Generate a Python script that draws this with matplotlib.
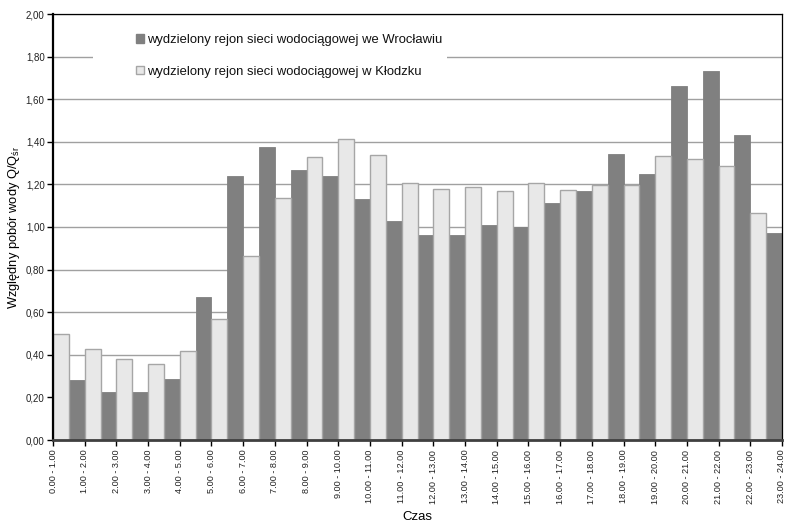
import numpy as np
import matplotlib
matplotlib.use("Agg")
import matplotlib.pyplot as plt
from matplotlib.patches import Patch, Rectangle

plt.rcParams['font.family'] = ['Liberation Sans', 'DejaVu Sans']
plt.rcParams['mathtext.fontset'] = 'custom'
plt.rcParams['mathtext.rm'] = 'Liberation Sans'
plt.rcParams['mathtext.it'] = 'Liberation Sans'

hours = ["0.00 - 1.00", "1.00 - 2.00", "2.00 - 3.00", "3.00 - 4.00", "4.00 - 5.00",
         "5.00 - 6.00", "6.00 - 7.00", "7.00 - 8.00", "8.00 - 9.00", "9.00 - 10.00",
         "10.00 - 11.00", "11.00 - 12.00", "12.00 - 13.00", "13.00 - 14.00",
         "14.00 - 15.00", "15.00 - 16.00", "16.00 - 17.00", "17.00 - 18.00",
         "18.00 - 19.00", "19.00 - 20.00", "20.00 - 21.00", "21.00 - 22.00",
         "22.00 - 23.00", "23.00 - 24.00"]

# relative water demand Q/Q_sr per hour (NaN = outside the plotted range)
wroclaw = [np.nan, 0.28, 0.225, 0.225, 0.286, 0.671, 1.239, 1.376, 1.268, 1.239,
           1.131, 1.028, 0.962, 0.962, 1.009, 0.998, 1.113, 1.169, 1.343, 1.25,
           1.662, 1.732, 1.432, 0.972]
klodzko = [0.50, 0.426, 0.38, 0.357, 0.416, 0.566, 0.864, 1.138, 1.327, 1.412,
           1.337, 1.205, 1.18, 1.189, 1.169, 1.205, 1.172, 1.196, 1.197, 1.333,
           1.321, 1.285, 1.064, np.nan]

label_w = "wydzielony rejon sieci wodociągowej we Wrocławiu"
label_k = "wydzielony rejon sieci wodociągowej w Kłodzku"

dark = "#808080"
light = "#E8E8E8"
light_edge = "#A6A6A6"

W, H = 785, 523
L, R, T, B = 53, 782, 14, 440
fig = plt.figure(figsize=(W / 100, H / 100), dpi=100)
ax = fig.add_axes([L / W, (H - B) / H, (R - L) / W, (B - T) / H])
aw, ah = R - L, B - T

x = np.arange(len(hours))
ax.bar(x - 0.5, wroclaw, width=0.5, align='edge', color=dark,
       edgecolor=dark, linewidth=0.6, zorder=2)
ax.bar(x, klodzko, width=0.5, align='edge', color=light,
       edgecolor=light_edge, linewidth=1.0, zorder=2)

ax.set_xlim(0, len(hours) - 1)
ax.set_ylim(0, 2.0)
yt = np.arange(0, 2.01, 0.2)
ax.set_yticks(yt)
ax.set_yticklabels([f"{v:.2f}".replace('.', ',') for v in yt], fontsize=7)
ax.set_xticks(x)
ax.set_xticklabels(hours, rotation=90, fontsize=6.6, va='top')

ax.yaxis.grid(True, color="#A0A0A0", linewidth=1.0, zorder=0)
ax.set_axisbelow(True)

ax.tick_params(axis='both', direction='out', length=4, width=1, colors='black',
               labelcolor='#222222', pad=2)
ax.tick_params(axis='x', pad=3)

for side in ('top', 'right'):
    ax.spines[side].set_color('black')
    ax.spines[side].set_linewidth(0.9)
ax.spines['left'].set_color('black')
ax.spines['left'].set_linewidth(1.6)
ax.spines['bottom'].set_color('#404040')
ax.spines['bottom'].set_linewidth(2.0)

ax.set_ylabel("Względny pobór wody Q/Q$_{\\mathrm{śr}}$", fontsize=9.3)
ax.yaxis.set_label_coords((14 - L) / aw, 0.5)
ax.set_xlabel("Czas", fontsize=9.5)
ax.xaxis.set_label_coords(0.5, -(517 - B) / ah)
ax.xaxis.label.set_va('center')
ax.yaxis.label.set_va('center')

# white legend area that interrupts the gridline behind it
ax.add_patch(Rectangle(((93 - L) / aw, (B - 84) / ah), (447 - 93) / aw, (84 - 28) / ah,
                       transform=ax.transAxes, facecolor='white', edgecolor='none',
                       zorder=1))

handles = [Patch(facecolor=dark, edgecolor=dark, label=label_w),
           Patch(facecolor=light, edgecolor=light_edge, label=label_k)]
leg = ax.legend(handles=handles, loc='upper left',
                bbox_to_anchor=((136 - L) / aw, (B - 34) / ah),
                frameon=False, fontsize=9.4,
                handlelength=0.62, handleheight=0.62, handletextpad=0.25,
                labelspacing=1.5, borderpad=0, borderaxespad=0)
for t in leg.get_texts():
    t.set_color('#111111')

fig.savefig("out.png", dpi=100, facecolor='white')
